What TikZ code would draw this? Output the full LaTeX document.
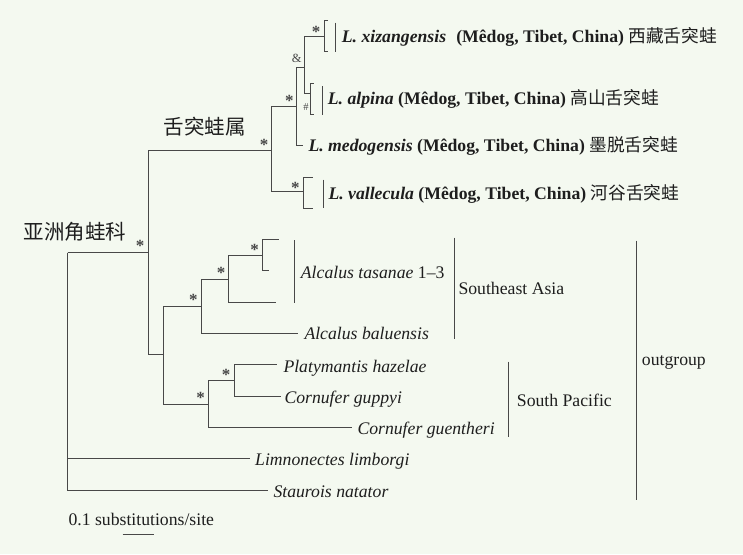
\documentclass[tikz,border=0pt]{standalone}
\usepackage{fontspec}
\setmainfont{Liberation Serif}
\newfontfamily\cjk{Noto Sans CJK SC}
\definecolor{bg}{RGB}{244,249,240}
\definecolor{ln}{RGB}{72,72,72}
\definecolor{mk}{RGB}{70,70,70}
\definecolor{tx}{RGB}{30,30,30}
\begin{document}
\begin{tikzpicture}[x=1pt,y=-1pt,
  br/.style={draw=ln,line width=1.8pt},
  lab/.style={anchor=base west,inner sep=0pt,text=tx,font=\fontsize{17.7}{20}\selectfont},
  blab/.style={anchor=base west,inner sep=0pt,text=tx,font=\fontsize{17.7}{20}\selectfont\bfseries},
  big/.style={anchor=base west,inner sep=0pt,text=tx,font=\cjk\fontsize{20.5}{24}\selectfont},
  ast/.style={anchor=base,inner sep=0pt,text=mk,font=\fontsize{17}{17}\selectfont\bfseries},
  sml/.style={anchor=base,inner sep=0pt,text=mk,font=\fontsize{12.5}{12.5}\selectfont}]
\useasboundingbox (0,0) rectangle (743,554);
\fill[bg] (0,0) rectangle (743,554);
% internal nodes
\coordinate (R) at (67.5,252.5);
\coordinate (A) at (148.5,252.5);
\coordinate (L) at (271.5,150.5);
\coordinate (M) at (296.5,106.5);
\coordinate (XA) at (304.5,67.5);
\coordinate (B) at (163.5,354.5);
\coordinate (C) at (201.5,306.5);
\coordinate (D) at (228.5,279.5);
\coordinate (E) at (262.5,255.5);
\coordinate (F) at (208.5,404.5);
\coordinate (G) at (234.5,380.5);
% tips
\coordinate (xiz) at (324.5,36.5);
\coordinate (alp) at (310.5,93.5);
\coordinate (med) at (303,145.5);
\coordinate (val) at (303.5,191.5);
\coordinate (t1) at (278.5,239.5);
\coordinate (t2) at (268.5,270.5);
\coordinate (t3) at (276,302.5);
\coordinate (bal) at (297.5,333.5);
\coordinate (pla) at (277,364.5);
\coordinate (gup) at (281,396.5);
\coordinate (gue) at (351.5,427.5);
\coordinate (lim) at (250,458.5);
\coordinate (sta) at (267.5,490.5);
% branches
\draw[br] (R) -- (A);
\draw[br] (R) |- (lim);
\draw[br] (R) |- (sta);
\draw[br] (A) |- (L);
\draw[br] (A) |- (B);
\draw[br] (L) |- (M);
\draw[br] (L) |- (val);
\draw[br] (M) |- (XA);
\draw[br] (M) |- (med);
\draw[br] (XA) |- (xiz);
\draw[br] (XA) |- (alp);
\draw[br] (B) |- (C);
\draw[br] (B) |- (F);
\draw[br] (C) |- (D);
\draw[br] (C) |- (bal);
\draw[br] (D) |- (E);
\draw[br] (D) |- (t3);
\draw[br] (E) |- (t1);
\draw[br] (E) |- (t2);
\draw[br] (F) |- (G);
\draw[br] (F) |- (gue);
\draw[br] (G) |- (pla);
\draw[br] (G) |- (gup);
% collapsed clade brackets and bars
\draw[br] (328,20.5) -- (324.5,20.5) -- (324.5,51.5) -- (328,51.5);
\draw[br] (335.5,22.5) -- (335.5,51.5);
\draw[br] (313.5,83.5) -- (310.5,83.5) -- (310.5,114.5) -- (313.5,114.5);
\draw[br] (322.5,86) -- (322.5,114.5);
\draw[br] (312.5,177.5) -- (303.5,177.5) -- (303.5,208.5) -- (312.5,208.5);
\draw[br] (323.5,179.5) -- (323.5,207.5);
\draw[br] (294.5,240) -- (294.5,302.5);
% group bars
\draw[br] (454.5,237.5) -- (454.5,338.5);
\draw[br] (508.5,361.5) -- (508.5,436.5);
\draw[br] (636.5,240.5) -- (636.5,500);
% scale bar
\draw[br] (122.5,534.5) -- (154,534.5);
% support marks
\node[ast] (s1) at (316,37.6) {*};
\node[sml] (s2) at (296.7,62.6) {\&};
\node[ast] (s3) at (289.3,106.6) {*};
\node[sml,font=\fontsize{10.5}{10.5}\selectfont] (s4) at (306,110.5) {\#};
\node[ast] (s5) at (264,150) {*};
\node[ast] (s6) at (295.3,193.3) {*};
\node[ast] (s7) at (140,251) {*};
\node[ast] (s8) at (254.6,255) {*};
\node[ast] (s9) at (221,278.3) {*};
\node[ast] (s10) at (193.3,305.8) {*};
\node[ast] (s11) at (226,380) {*};
\node[ast] (s12) at (200.7,403.3) {*};
% labels
\node[blab] (lxiz) at (341.7,42.5) {\textit{L. xizangensis}\hspace{0.57em}(Mêdog, Tibet, China) {\cjk\mdseries 西藏舌突蛙}};
\node[blab] (lalp) at (327.7,104.5) {\textit{L. alpina} (Mêdog, Tibet, China) {\cjk\mdseries 高山舌突蛙}};
\node[blab] (lmed) at (308.3,151) {\textit{L. medogensis} (Mêdog, Tibet, China) {\cjk\mdseries 墨脱舌突蛙}};
\node[blab] (lval) at (328.3,199.5) {\textit{L. vallecula} (Mêdog, Tibet, China) {\cjk\mdseries 河谷舌突蛙}};
\node[lab] (ltas) at (300.7,278.3) {\textit{Alcalus tasanae} 1--3};
\node[lab] (lbal) at (304.3,339) {\textit{Alcalus baluensis}};
\node[lab] (lsea) at (458.3,294) {Southeast Asia};
\node[lab] (lpla) at (283.3,372) {\textit{Platymantis hazelae}};
\node[lab] (lgup) at (284.3,403.3) {\textit{Cornufer guppyi}};
\node[lab] (lgue) at (357.3,434.5) {\textit{Cornufer guentheri}};
\node[lab] (lsp) at (516.7,406) {South Pacific};
\node[lab] (lout) at (641.7,365.3) {outgroup};
\node[lab] (llim) at (255,465) {\textit{Limnonectes limborgi}};
\node[lab] (lsta) at (273.3,497.3) {\textit{Staurois natator}};
\node[lab] (lsc) at (68.3,525) {0.1 substitutions/site};
\node[big] (lfam) at (23.3,239.5) {亚洲角蛙科};
\node[big] (lgen) at (163.3,134.8) {舌突蛙属};
\end{tikzpicture}
\end{document}
